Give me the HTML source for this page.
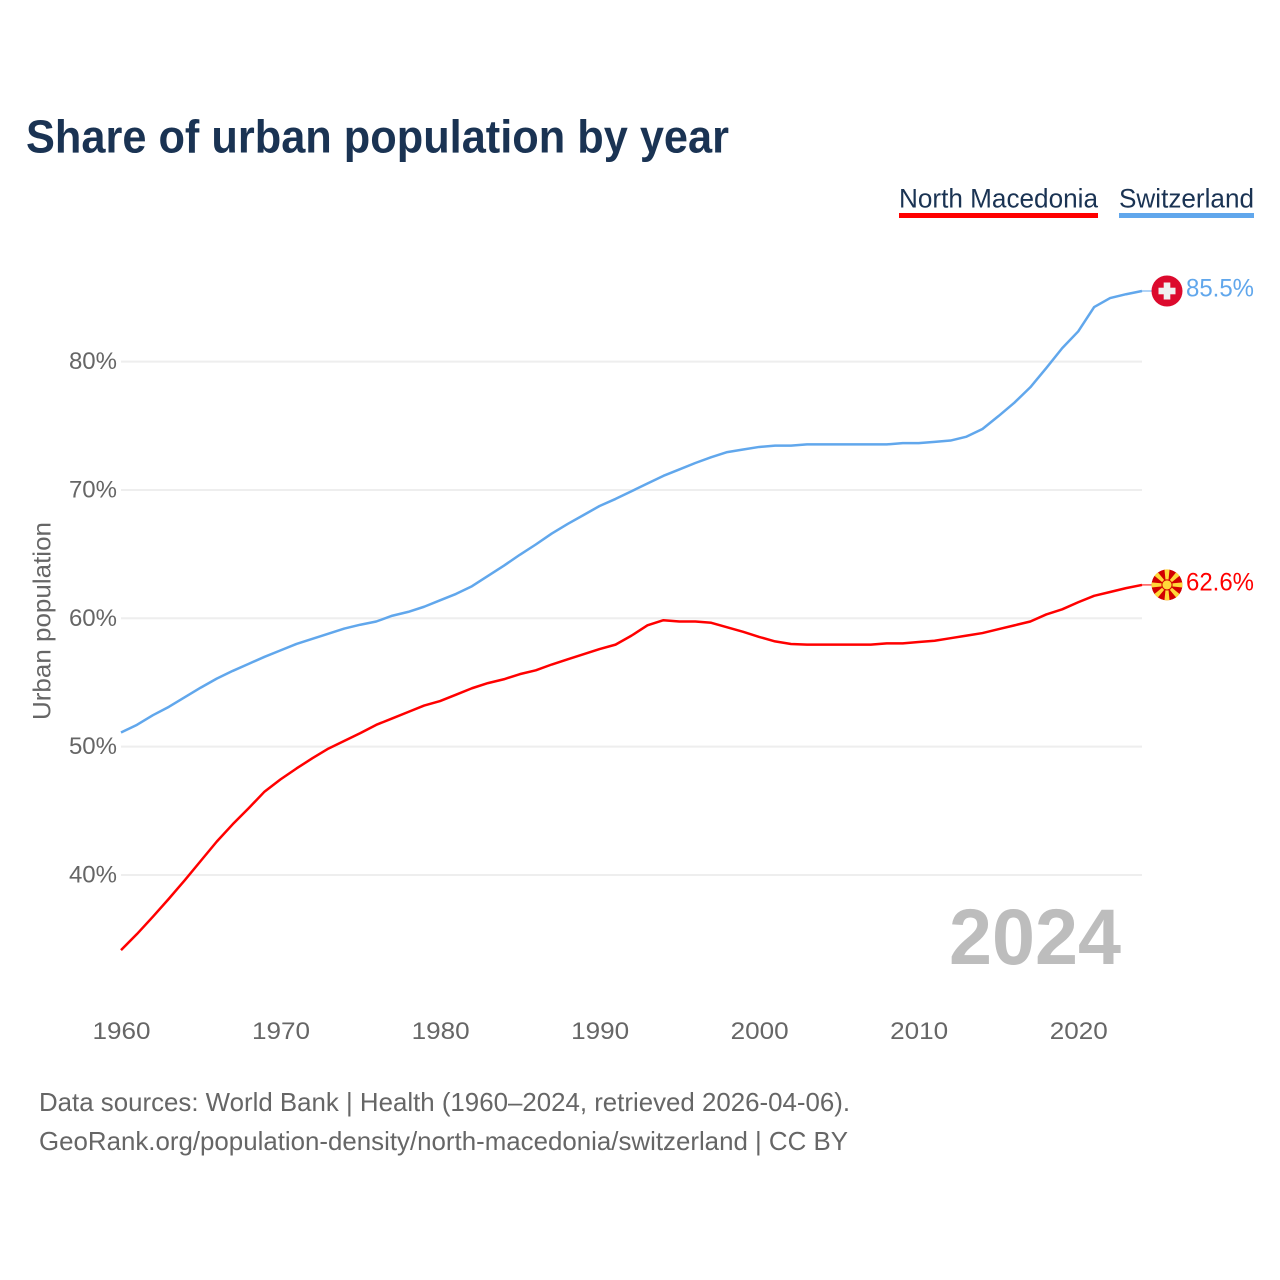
<!DOCTYPE html>
<html lang="en">
<head>
<meta charset="utf-8">
<title>Share of urban population by year</title>
<style>
html,body{margin:0;padding:0;background:#fff;}
svg{display:block;}
text{font-family:"Liberation Sans",sans-serif;}
</style>
</head>
<body>
<svg id="chart" width="1280" height="1280" viewBox="0 0 1280 1280" xmlns="http://www.w3.org/2000/svg">
  <rect x="0" y="0" width="1280" height="1280" fill="#ffffff"/>
  <text x="26" y="152.5" font-size="46" font-weight="700" fill="#1a3353" textLength="703" lengthAdjust="spacingAndGlyphs">Share of urban population by year</text>

  <g>
    <text x="899" y="207.5" font-size="27" fill="#1a3353" textLength="199" lengthAdjust="spacingAndGlyphs">North Macedonia</text>
    <rect x="899" y="213" width="199" height="5" fill="#ff0000"/>
  </g>
  <g>
    <text x="1119" y="207.5" font-size="27" fill="#1a3353" textLength="135" lengthAdjust="spacingAndGlyphs">Switzerland</text>
    <rect x="1119" y="213" width="135" height="5" fill="#61a7ec"/>
  </g>

  <g id="grid"></g>
  <g id="y-labels"></g>
  <g id="x-labels"></g>
  <text transform="translate(50.5,621) rotate(-90)" text-anchor="middle" font-size="25" fill="#666666" textLength="198" lengthAdjust="spacingAndGlyphs">Urban population</text>

  <text x="949" y="964" font-size="79" font-weight="700" fill="#bdbdbd" textLength="172" lengthAdjust="spacingAndGlyphs">2024</text>

  <g id="series"></g>

  <defs>
    <clipPath id="mk-clip"><circle cx="0" cy="0" r="15.5"/></clipPath>
  </defs>
  <g id="flag-ch">
    <circle cx="0" cy="0" r="15.5" fill="#dc0a2d"/>
    <rect x="-3.3" y="-8.5" width="6.6" height="17" fill="#f0f0f0"/>
    <rect x="-8.5" y="-3.3" width="17" height="6.6" fill="#f0f0f0"/>
  </g>
  <g id="flag-mk">
    <g clip-path="url(#mk-clip)">
      <circle cx="0" cy="0" r="15.5" fill="#d20000"/>
      <polygon points="-1,0 1,0 2.6,-16 -2.6,-16" fill="#ffd83a"/>
      <polygon points="-1,0 1,0 2.6,16 -2.6,16" fill="#ffd83a"/>
      <polygon points="0,-1 0,1 -16,2.6 -16,-2.6" fill="#ffd83a"/>
      <polygon points="0,-1 0,1 16,2.6 16,-2.6" fill="#ffd83a"/>
      <polygon points="-0.7,-0.7 0.7,0.7 13,-9.5 9.5,-13" fill="#ffd83a"/>
      <polygon points="-0.7,-0.7 0.7,0.7 -9.5,13 -13,9.5" fill="#ffd83a"/>
      <polygon points="-0.7,0.7 0.7,-0.7 -9.5,-13 -13,-9.5" fill="#ffd83a"/>
      <polygon points="-0.7,0.7 0.7,-0.7 13,9.5 9.5,13" fill="#ffd83a"/>
      <circle cx="0" cy="0" r="5.6" fill="#d20000"/>
      <circle cx="0" cy="0" r="4.6" fill="#ffd83a"/>
    </g>
  </g>
  <g id="end-labels"></g>

  <text x="39" y="1111" font-size="26" fill="#666666" textLength="811" lengthAdjust="spacingAndGlyphs">Data sources: World Bank | Health (1960–2024, retrieved 2026-04-06).</text>
  <text x="39" y="1150" font-size="26" fill="#666666" textLength="809" lengthAdjust="spacingAndGlyphs">GeoRank.org/population-density/north-macedonia/switzerland | CC BY</text>
</svg>
<script>
const firstYear = 1960;
const yTicks = [40, 50, 60, 70, 80];
const xTicks = [1960, 1970, 1980, 1990, 2000, 2010, 2020];
const switzerland = [51.1,51.7,52.45,53.1,53.85,54.6,55.3,55.9,56.45,57.0,57.5,58.0,58.4,58.8,59.2,59.5,59.75,60.2,60.5,60.9,61.4,61.9,62.5,63.3,64.1,64.95,65.75,66.6,67.35,68.05,68.75,69.3,69.9,70.5,71.1,71.6,72.1,72.55,72.95,73.15,73.35,73.45,73.45,73.55,73.55,73.55,73.55,73.55,73.55,73.65,73.65,73.75,73.85,74.15,74.75,75.75,76.8,78.0,79.5,81.05,82.35,84.25,84.95,85.25,85.5];
const northMacedonia = [34.15,35.4,36.75,38.15,39.6,41.1,42.6,43.95,45.2,46.5,47.45,48.3,49.1,49.85,50.45,51.05,51.7,52.2,52.7,53.2,53.55,54.05,54.55,54.95,55.25,55.65,55.95,56.4,56.8,57.2,57.6,57.95,58.65,59.45,59.85,59.75,59.75,59.65,59.3,58.95,58.55,58.2,58.0,57.95,57.95,57.95,57.95,57.95,58.05,58.05,58.15,58.25,58.45,58.65,58.85,59.15,59.45,59.75,60.3,60.7,61.25,61.75,62.05,62.35,62.6];

const SVG_NS = 'http://www.w3.org/2000/svg';
const plotLeft = 121, plotRight = 1142, flagX = 1167;
function xScale(year) { return plotLeft + (year - 1960) * (plotRight - plotLeft) / 64; }
function yScale(value) { return 875 - (value - 40) * 12.835; }
function make(tag, parent, attrs) {
  const el = document.createElementNS(SVG_NS, tag);
  for (const key in attrs) el.setAttribute(key, attrs[key]);
  parent.appendChild(el);
  return el;
}

const grid = document.getElementById('grid');
const yLabels = document.getElementById('y-labels');
yTicks.forEach(function (tick) {
  const line = make('line', grid, { x1: plotLeft, x2: plotRight, y1: yScale(tick), y2: yScale(tick), stroke: '#eeeeee', 'stroke-width': 2 });
  
  
  const label = make('text', yLabels, { x: 117, y: yScale(tick) + 7.5, 'text-anchor': 'end', 'font-size': 24, fill: '#666666' });
  
  
  label.textContent = tick + '%';
});

const xLabels = document.getElementById('x-labels');
xTicks.forEach(function (tick) {
  const label = make('text', xLabels, { x: xScale(tick) + 0.5, y: 1039, 'text-anchor': 'middle', 'font-size': 24, fill: '#666666', textLength: 58, lengthAdjust: 'spacingAndGlyphs' });
  
  
  label.textContent = tick;
});

function drawSeries(values, color, key, flagId) {
  const group = document.getElementById('series');
  const pts = values.map(function (v, i) { return xScale(firstYear + i).toFixed(2) + ',' + yScale(v).toFixed(2); }).join(' ');
  const line = make('polyline', group, { points: pts, fill: 'none', stroke: color, 'stroke-width': 2.5, 'stroke-linejoin': 'round' });
  
  
  const last = values[values.length - 1];
  const yLast = yScale(last);
  const connector = make('line', group, { x1: plotRight, x2: flagX - 15, y1: yLast, y2: yLast, stroke: color, 'stroke-width': 1 });
  
  
  document.getElementById(flagId).setAttribute('transform', 'translate(' + flagX + ',' + yLast + ')');
  const label = make('text', document.getElementById('end-labels'), { x: 1186, y: yLast + 5.5, 'font-size': 25, fill: color, textLength: 68, lengthAdjust: 'spacingAndGlyphs' });
  
  
  label.textContent = last.toFixed(1) + '%';
}
drawSeries(switzerland, '#61a7ec', 'switzerland', 'flag-ch');
drawSeries(northMacedonia, '#ff0000', 'north-macedonia', 'flag-mk');
</script>
</body>
</html>
